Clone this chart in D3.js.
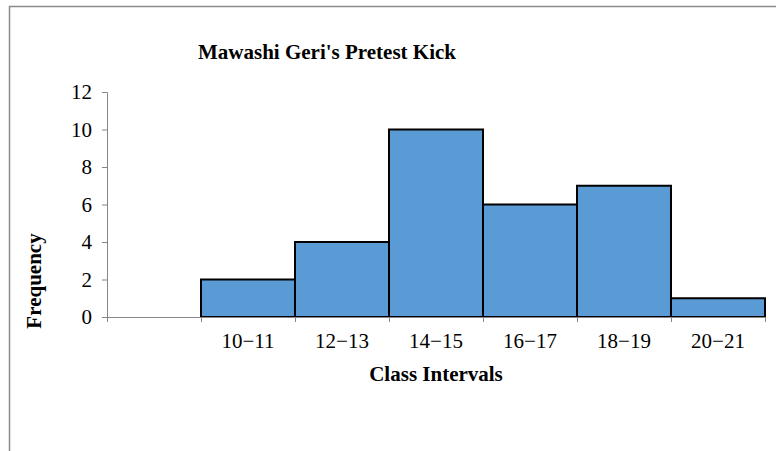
<!DOCTYPE html>
<html>
<head>
<meta charset="utf-8">
<script src="https://cdn.jsdelivr.net/npm/d3@7"></script>
<style>
  html, body { margin: 0; padding: 0; background: #fff; }
  svg { display: block; }
  text { font-family: "Liberation Serif", "Times New Roman", serif; fill: #000; }
</style>
</head>
<body>
<svg id="chart" width="776" height="451"></svg>
<script>
const categories = ["", "10\u221211", "12\u221213", "14\u221215", "16\u221217", "18\u221219", "20\u221221"];
const frequencies = [0, 2, 4, 10, 6, 7, 1];
const yTicks = [0, 2, 4, 6, 8, 10, 12];
const title = "Mawashi Geri's Pretest Kick";
const xTitle = "Class Intervals";
const yTitle = "Frequency";

const svg = d3.select("#chart");
const W = 776, H = 451;
const m = { left: 107, right: 11, top: 92, bottom: 134 };
const pw = W - m.left - m.right, ph = H - m.top - m.bottom;

// outer border
svg.append("rect").attr("x", 9.5).attr("y", 6.5).attr("width", 800).attr("height", 500)
  .attr("fill", "none").attr("stroke", "#8c8c8c").attr("stroke-width", 1.5);

const g = svg.append("g").attr("transform", `translate(${m.left},${m.top})`);

const x = d3.scaleBand().domain(categories.map((c, i) => i)).range([0, pw]).padding(0);
const y = d3.scaleLinear().domain([0, 12]).range([ph, 0]);

// bars
g.selectAll("rect.bar").data(frequencies.map((v, i) => ({ v, i })).filter(d => d.v > 0))
  .join("rect").attr("class", "bar")
  .attr("x", d => x(d.i)).attr("width", x.bandwidth())
  .attr("y", d => y(d.v)).attr("height", d => y(0) - y(d.v))
  .attr("fill", "#5B9BD5").attr("stroke", "#000").attr("stroke-width", 2);

// y axis
const yAxis = g.append("g").call(d3.axisLeft(y).tickValues(yTicks).tickSize(5).tickPadding(10).tickFormat(d3.format("d")));
yAxis.attr("font-size", null).attr("font-family", null);
yAxis.select(".domain").attr("stroke", "#868686");
yAxis.selectAll(".tick line").attr("stroke", "#868686");
yAxis.selectAll(".tick text").style("font-size", "21px").style("font-family", "'Liberation Serif', serif");

// x axis
const xAxis = g.append("g").attr("transform", `translate(0,${ph})`);
xAxis.append("line").attr("x1", 0).attr("x2", pw).attr("y1", 0.5).attr("y2", 0.5).attr("stroke", "#868686");
const bounds = d3.range(categories.length + 1).map(i => i < categories.length ? x(i) : pw);
xAxis.selectAll("line.tk").data(bounds).join("line").attr("class", "tk")
  .attr("x1", d => d + 0.5).attr("x2", d => d + 0.5).attr("y1", 0).attr("y2", 5).attr("stroke", "#868686");
xAxis.selectAll("text.lbl").data(categories).join("text").attr("class", "lbl")
  .attr("x", (d, i) => x(i) + x.bandwidth() / 2).attr("y", 31)
  .attr("text-anchor", "middle").style("font-size", "21px").text(d => d);

// titles
svg.append("text").attr("x", 327).attr("y", 59).attr("text-anchor", "middle")
  .style("font-size", "21px").attr("font-weight", "bold").text(title);
svg.append("text").attr("x", 436).attr("y", 381).attr("text-anchor", "middle")
  .style("font-size", "21px").attr("font-weight", "bold").text(xTitle);
svg.append("text").attr("transform", "translate(41,281) rotate(-90)").attr("text-anchor", "middle")
  .style("font-size", "21px").attr("font-weight", "bold").text(yTitle);
</script>
</body>
</html>
